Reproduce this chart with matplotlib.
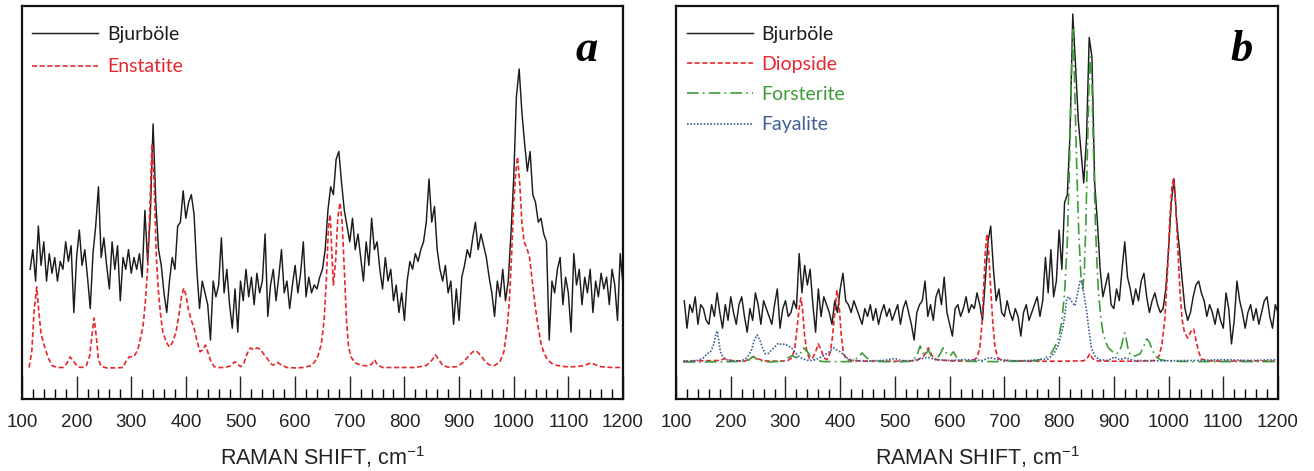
import numpy as np
import matplotlib.pyplot as plt
from matplotlib.ticker import MultipleLocator

plt.rcParams["font.family"] = ["Liberation Sans", "DejaVu Sans"]
plt.rcParams["mathtext.fontset"] = "custom"
plt.rcParams["mathtext.rm"] = "Liberation Sans"

# Raman shift grid of the measured Bjurböle spectra (cm-1)
shift = np.arange(115, 1201, 5)

# panel a: Bjurböle (measured, arbitrary units)
bjurbole_a = [
    33, 38, 30, 44, 34, 40, 30, 37, 32, 36,
    30, 35, 33, 40, 35, 39, 22, 36, 43, 34,
    38, 31, 23, 37, 44, 54, 36, 41, 34, 28,
    40, 33, 39, 25, 36, 33, 38, 32, 36, 33,
    37, 31, 48, 35, 47, 70, 50, 38, 34, 27,
    22, 30, 36, 33, 44, 45, 53, 46, 50, 52,
    47, 33, 23, 30, 27, 24, 15, 30, 26, 29,
    41, 27, 33, 24, 18, 28, 17, 30, 25, 33,
    26, 31, 24, 32, 27, 30, 42, 21, 29, 33,
    25, 31, 38, 27, 30, 23, 29, 34, 27, 32,
    40, 26, 31, 27, 29, 28, 31, 33, 38, 48,
    54, 52, 61, 63, 55, 48, 44, 40, 46, 38,
    42, 36, 30, 40, 34, 46, 38, 40, 33, 28,
    36, 30, 33, 25, 29, 22, 27, 20, 30, 35,
    33, 37, 35, 38, 40, 45, 56, 45, 49, 38,
    33, 30, 34, 27, 30, 19, 28, 20, 31, 34,
    38, 36, 41, 45, 38, 42, 39, 36, 31, 27,
    21, 30, 26, 33, 25, 30, 42, 56, 77, 84,
    73, 65, 58, 63, 52, 50, 45, 46, 42, 40,
    15, 30, 27, 33, 36, 24, 31, 27, 17, 37,
    29, 33, 24, 31, 27, 33, 22, 30, 26, 32,
    28, 31, 24, 33, 29, 20, 37, 29,
]

# panel a: enstatite reference
enstatite_x = [
    113, 118, 122, 127, 131, 135, 142, 148, 155, 165, 175, 182, 188, 195, 202,
    210, 218, 224, 228, 232, 236, 240, 245, 255, 270, 285, 290, 296, 305, 312,
    318, 322, 326, 330, 334, 338, 342, 346, 350, 354, 358, 364, 370, 376, 382,
    388, 392, 396, 400, 405, 410, 415, 420, 426, 431, 436, 440, 446, 452, 460,
    470, 480, 486, 490, 494, 500, 506, 512, 518, 524, 530, 536, 542, 548, 555,
    560, 568, 575, 585, 600, 615, 630, 637, 642, 648, 653, 657, 661, 664, 667,
    670, 674, 678, 682, 686, 690, 694, 698, 703, 710, 720, 730, 740, 745, 750,
    760, 780, 800, 820, 840, 850, 857, 864, 870, 880, 895, 905, 915, 925, 932,
    940, 948, 955, 965, 975, 982, 988, 992, 996, 1000, 1004, 1007, 1011, 1015,
    1019, 1024, 1029, 1034, 1039, 1044, 1050, 1056, 1062, 1070, 1080, 1095,
    1110, 1125, 1135, 1141, 1148, 1160, 1180, 1200,
]
enstatite = [
    8, 12, 22, 28.5, 22, 16.5, 13, 10.5, 8.5, 8, 8, 9, 10.7, 9.5, 8.2,
    8, 8.5, 11, 16, 20.6, 16, 10, 8.3, 7.9, 7.9, 8, 9.5, 10.7, 10.8, 12.5,
    16, 19, 25, 33, 48, 65, 55, 36, 27, 21, 17, 14.5, 13.2, 14.5, 17,
    22, 26, 28.2, 26.5, 22.6, 20, 18, 15, 12, 12.5, 13.7, 12, 9.5, 8.2, 8,
    8, 8.3, 9, 9.5, 9, 8.2, 9, 11.5, 13, 12.5, 13, 12.7, 11.5, 10.5, 9,
    8.6, 9.3, 8.6, 8, 7.9, 8, 8.5, 9.7, 11, 14, 20, 30, 44, 47, 38,
    29, 35, 46, 50, 45, 33, 20, 13, 10.5, 9.2, 8.6, 8.4, 8.8, 10, 8.8,
    8, 8, 8, 8, 8.5, 9.8, 11.2, 9.8, 8.5, 8.1, 8.2, 9, 10.5, 12, 12.2,
    11, 9.5, 8.7, 8.5, 9.5, 12, 18, 25, 36, 50, 58, 61.6, 55, 45,
    40, 38.5, 36, 30, 24, 19, 14, 11.5, 10, 9, 8.5, 8.2,
    8.2, 8.4, 8.8, 9.2, 8.8, 8.2, 8, 8,
]

# panel b: Bjurböle (measured, arbitrary units)
bjurbole_b = [
    25, 18, 24, 22, 26, 19, 24, 23, 20, 19,
    24, 21, 27, 22, 18, 24, 20, 26, 22, 19,
    24, 26, 21, 17, 23, 20, 27, 24, 19, 25,
    23, 21, 19, 24, 28, 18, 23, 25, 21, 22,
    25, 23, 37, 27, 34, 29, 33, 24, 17, 28,
    21, 26, 24, 22, 19, 25, 22, 28, 32, 25,
    24, 22, 25, 23, 21, 19, 23, 21, 24, 20,
    23, 19, 22, 24, 21, 23, 20, 22, 24, 19,
    23, 25, 22, 19, 15, 22, 24, 25, 30, 21,
    24, 20, 26, 28, 24, 31, 22, 19, 16, 23,
    24, 21, 23, 26, 22, 24, 23, 27, 24, 20,
    30, 40, 44, 33, 25, 28, 22, 21, 25, 22,
    20, 23, 21, 16, 22, 24, 20, 22, 24, 26,
    21, 25, 36, 27, 38, 26, 30, 43, 33, 50,
    52, 68, 98, 85, 71, 63, 55, 66, 92, 87,
    55, 45, 33, 26, 29, 32, 24, 23, 28, 25,
    33, 40, 31, 28, 24, 28, 25, 30, 32, 26,
    22, 25, 27, 24, 22, 23, 28, 38, 50, 56,
    45, 38, 30, 23, 20, 22, 26, 29, 30, 27,
    25, 21, 24, 22, 19, 23, 20, 18, 27, 23,
    14, 20, 30, 25, 22, 18, 22, 24, 20, 23,
    19, 22, 25, 26, 21, 18, 24, 22,
]

# panel b: diopside reference
diopside_x = [
    113, 150, 180, 190, 200, 225, 235, 241, 248, 260, 290, 305, 312, 317, 321,
    325, 328, 331, 335, 339, 344, 350, 355, 360, 365, 370, 376, 382, 386, 390,
    394, 398, 402, 406, 412, 425, 450, 480, 510, 540, 553, 561, 568, 576, 600,
    640, 650, 655, 659, 662, 665, 668, 671, 675, 679, 683, 688, 695, 750, 800,
    845, 852, 856, 860, 866, 900, 950, 975, 983, 988, 993, 998, 1002, 1006,
    1009, 1013, 1017, 1021, 1025, 1029, 1035, 1042, 1046, 1050, 1055, 1060,
    1070, 1100, 1150, 1200,
]
diopside = [
    9.6, 9.7, 9.8, 10.3, 9.8, 9.6, 10.2, 10.8, 10.3, 9.7, 9.6, 9.8, 10.5, 13, 18,
    23, 25.7, 23, 16, 12, 10.2, 10.5, 12, 14, 12.5, 10.5, 10, 12, 16, 22,
    27.7, 24, 16, 11.5, 10, 9.7, 9.6, 9.6, 9.6, 9.8, 11, 13, 11, 10, 9.7,
    9.6, 10.5, 13, 19, 28, 37, 42, 38, 28, 19, 13, 10.5, 9.8, 9.6, 9.6,
    9.7, 10.5, 11.5, 10.5, 9.7, 9.6, 9.6, 9.8, 11, 14, 20, 32, 45, 54,
    56, 50, 38, 27, 20, 17, 15.5, 17.5, 17.8, 15, 12, 10.2,
    9.7, 9.6, 9.7, 9.6,
]

# panel b: forsterite reference
forsterite_x = [
    113, 150, 200, 230, 241, 250, 270, 295, 305, 312, 320, 327, 333, 340, 347,
    355, 370, 420, 432, 440, 448, 458, 500, 530, 540, 546, 550, 555, 561, 566,
    575, 583, 588, 595, 601, 607, 613, 622, 680, 730, 760, 775, 785, 793, 800,
    805, 810, 815, 819, 822, 825, 828, 832, 836, 840, 843, 846, 849, 852, 855,
    857, 860, 863, 866, 869, 872, 876, 880, 885, 890, 898, 905, 910, 914, 917,
    920, 923, 927, 932, 940, 948, 955, 960, 965, 970, 977, 985, 1000, 1050,
    1100, 1150, 1200,
]
forsterite = [
    9.4, 9.4, 9.5, 9.6, 10.8, 9.8, 9.4, 9.6, 10.5, 11, 10.5, 11.5, 13, 12, 10.5,
    9.8, 9.5, 9.5, 10.5, 11.7, 10.5, 9.6, 9.4, 9.6, 11, 13.5, 12, 11, 12.5, 11,
    9.8, 11.5, 13, 11.5, 11, 12, 10.5, 9.6, 9.5, 9.6, 9.8, 10.5, 11.5, 13.5, 16,
    20, 27, 40, 60, 80, 94, 82, 60, 42, 31, 28, 32, 45, 65, 82,
    87, 80, 62, 46, 35, 27, 21, 17, 14.5, 13, 12, 11.5, 12, 13.5, 15.5,
    16.8, 15, 12, 11, 11, 11.5, 13.5, 15.3, 14.5, 12.5, 10.8, 10, 9.6, 9.5,
    9.5, 9.5, 9.5,
]

# panel b: fayalite reference
fayalite_x = [
    113, 140, 150, 157, 163, 168, 172, 175, 178, 181, 186, 195, 215, 225, 232,
    238, 243, 248, 253, 258, 263, 268, 275, 282, 287, 293, 299, 305, 311, 317,
    323, 330, 340, 350, 360, 370, 378, 384, 388, 393, 400, 408, 415, 425, 450,
    480, 500, 510, 530, 560, 575, 600, 630, 660, 673, 690, 716, 750, 780, 790,
    798, 803, 807, 811, 814, 818, 822, 829, 834, 838, 841, 845, 850, 855, 859,
    865, 873, 890, 901, 910, 922, 935, 980, 1050, 1100, 1150, 1200,
]
fayalite = [
    9.6, 9.8, 10.5, 11.5, 12, 13.5, 16, 17.3, 15, 12, 10.5, 9.8, 9.6, 10, 11,
    12.5, 15, 16.3, 15, 13, 11.5, 11.5, 12.5, 13.5, 14.2, 13.8, 14, 13.5, 13, 12,
    11, 10.3, 9.8, 9.8, 10.3, 11, 11.8, 12.5, 13, 12.5, 12, 11, 10.2, 9.8, 9.7,
    9.8, 10.3, 9.8, 9.7, 10.6, 10, 9.8, 10, 9.8, 10.5, 10, 9.7, 9.8, 10.2, 11.5,
    13.5, 16, 18.3, 22, 25.5, 26, 25, 23.7, 27, 29.8, 30.3, 27, 22.6, 17, 13,
    11, 10, 9.8, 10.7, 10, 10.5, 9.8, 9.7, 9.8, 10, 9.8, 10,
]

BLACK = "#1c1c1c"
RED = "#e8262d"
GREEN = "#3f9b3a"
BLUE = "#3f5f98"


def style_axis(ax, letter):
    ax.set_xlim(100, 1200)
    ax.set_ylim(0, 100)
    ax.xaxis.set_major_locator(MultipleLocator(100))
    ax.xaxis.set_minor_locator(MultipleLocator(20))
    ax.set_yticks([])
    ax.tick_params(axis="x", which="major", direction="in", length=16.5,
                   width=1, pad=10.5, labelsize=13.5, colors="#222222")
    ax.tick_params(axis="x", which="minor", direction="in", length=7, width=1)
    for s in ax.spines.values():
        s.set_linewidth(1.6)
        s.set_color("#111111")
    ax.set_xlabel("RAMAN SHIFT, cm$^{-1}$", fontsize=15.5, color="#222222",
                  labelpad=10)
    ax.text(0.94, 0.86, letter, transform=ax.transAxes, ha="center",
            va="baseline", fontsize=32, fontweight="bold", fontstyle="italic",
            family=["Liberation Serif", "DejaVu Serif"])


def main():
    fig = plt.figure(figsize=(13.14, 4.71), dpi=100)
    ax_a = fig.add_axes([0.0167, 0.153, 0.4574, 0.834])
    ax_b = fig.add_axes([0.5145, 0.153, 0.4581, 0.834])

    ax_a.plot(shift, bjurbole_a, color=BLACK, lw=1.05, label="Bjurböle")
    ax_a.plot(enstatite_x, enstatite, color=RED, lw=1.2,
              ls=(0, (3, 1.6)), label="Enstatite")
    style_axis(ax_a, "a")
    ax_a.legend(loc="upper left", bbox_to_anchor=(0.017, 0.95), frameon=False,
                borderpad=0, borderaxespad=0, handlelength=3.4,
                handletextpad=0.45, labelspacing=0.8, labelcolor="linecolor",
                prop={"family": "Lato", "size": 14})

    ax_b.plot(shift, bjurbole_b, color=BLACK, lw=1.05, label="Bjurböle")
    ax_b.plot(diopside_x, diopside, color=RED, lw=1.2,
              ls=(0, (3, 1.6)), label="Diopside")
    ax_b.plot(forsterite_x, forsterite, color=GREEN, lw=1.2,
              ls=(0, (7, 2.5, 1, 2.5)), label="Forsterite")
    ax_b.plot(fayalite_x, fayalite, color=BLUE, lw=1.2,
              ls=(0, (1, 1)), label="Fayalite")
    style_axis(ax_b, "b")
    ax_b.legend(loc="upper left", bbox_to_anchor=(0.018, 0.95), frameon=False,
                borderpad=0, borderaxespad=0, handlelength=3.4,
                handletextpad=0.45, labelspacing=0.68, labelcolor="linecolor",
                prop={"family": "Lato", "size": 14})

    fig.savefig("out.png", dpi=100)


if __name__ == "__main__":
    main()
